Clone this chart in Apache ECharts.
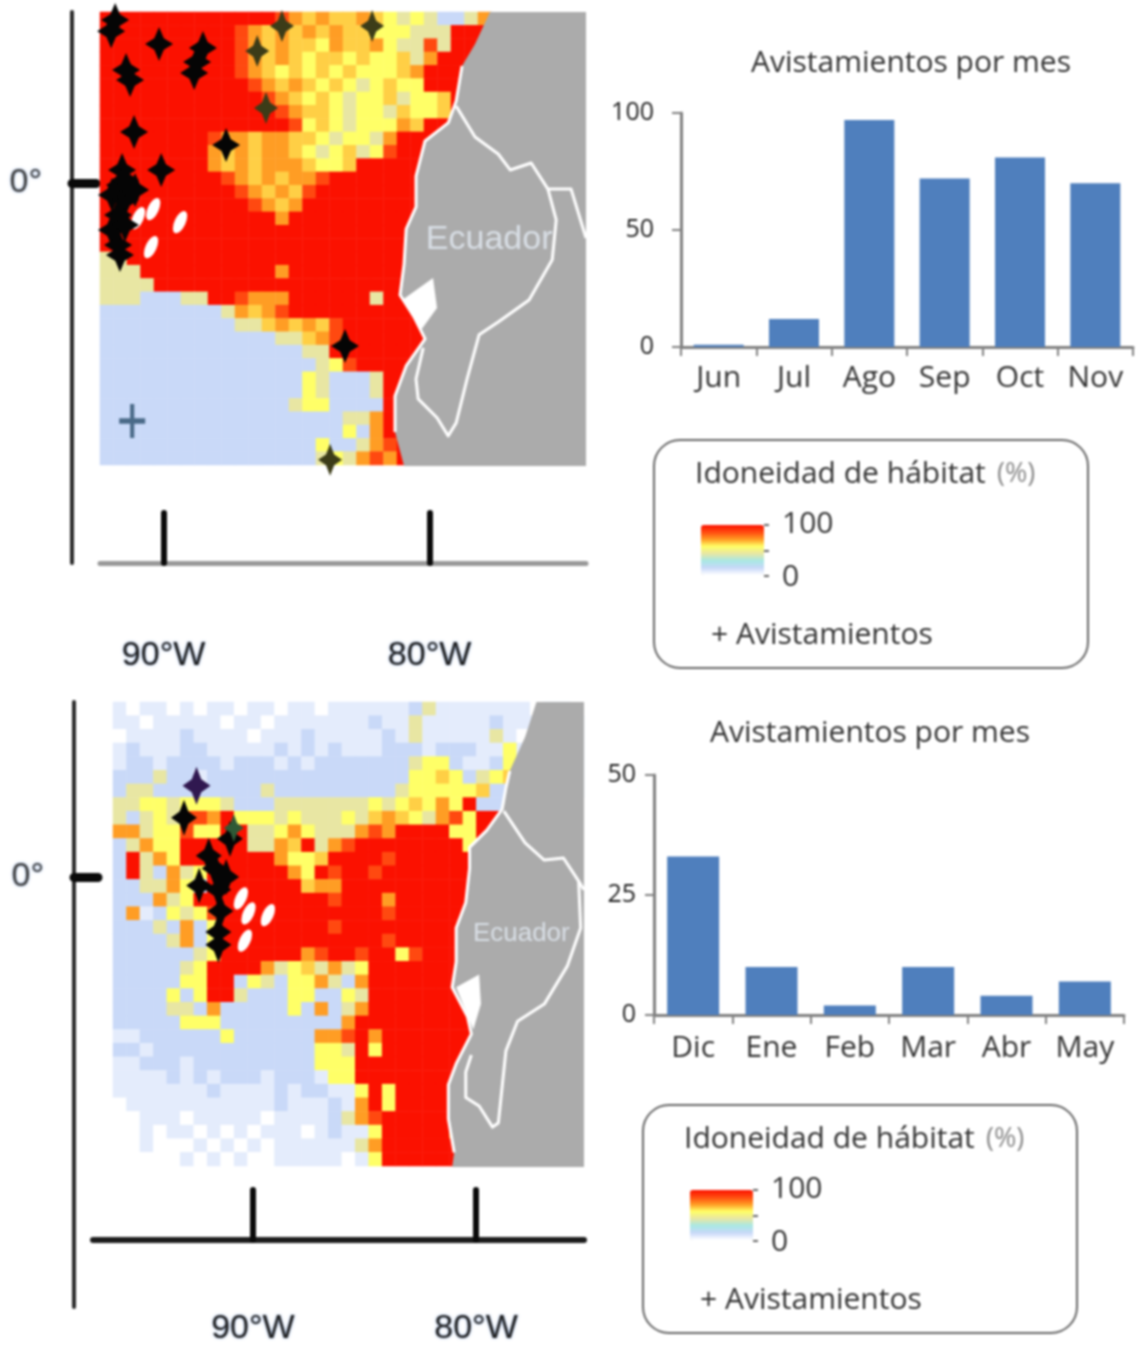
<!DOCTYPE html>
<html><head><meta charset="utf-8">
<style>html,body{margin:0;padding:0;background:#fff}#c{width:1148px;height:1355px;filter:blur(1px)}</style>
<script src="https://cdn.jsdelivr.net/npm/echarts@6/dist/echarts.min.js"></script>
</head><body><div id="c"></div>
<script>
// ---- bar chart data
const months1 = ['Jun','Jul','Ago','Sep','Oct','Nov'];
const sightings1 = [1,12,97,72,81,70];
const months2 = ['Dic','Ene','Feb','Mar','Abr','May'];
const sightings2 = [33,10,2,10,4,7];
const barTitle = 'Avistamientos por mes';
const legendTitle = 'Idoneidad de hábitat';
const legendUnit = '(%)';
const legendMark = '+ Avistamientos';
const lonTicks = [-90,-80];
const latTicks = [0];
// ---- suitability levels: digit in a map row -> percent
const levels = [0,7,14,43,57,64,71,86,100];
const rampColors = ['#ffffff','#c8d8f8','#a8e8e4','#e8e6a4','#ffff66','#ff9a22','#ff4a10','#fb1100'];
// ---- habitat suitability, map 1 (rows north to south)
const suit1 = [
'88888888888887656556543432236',
'88888888887656565655444333888',
'88888888887656554655643373888',
'8888888888765654554544536888',
'888888888876545454544456888',
'888888888887656545434544888',
'88888888888876545434453445888',
'8888888888888765543443544588',
'888888888888887454344465888',
'888888887665665543443688888',
'888888886565665434534788888',
'888888886565666544588888888',
'888888888765656678888888888',
'888888888876565788888888888',
'888888888887656888888888888',
'888888888888868888888888888',
'888888888888888888888888888',
'888888888888888888888888888',
'338888888888888888888888888',
'333888888888868888888888888',
'333388888888888888888888888',
'333222338876668888883888888',
'222222222365678888888888888',
'222222222233565657888888888',
'222222222222233567888888888',
'222222222222222338888888888',
'222222222222222234788888888',
'222222222222222432223888888',
'222222222222222432223888888',
'222222222222223442222888888',
'222222222222222222336888888',
'222222222222222222426888888',
'222222222222222242236788888',
'222222222222222234367688888'];
// ---- habitat suitability, map 2 (rows north to south)
const suit2 = [
'10110101101101101111112311111110110',
'11011111011011111112113111112111011',
'01111211110111211111213111113101011',
'12111221111121212111222122211411011',
'12212222122212122222223442112411001',
'22232212222222222222224454234511011',
'23322222222322222222234444452211001',
'33443444322233333334345464822110',
'32343776844434333435654367488110',
'66344744883346433367688884488',
'23644888883365836788888888448',
'28364888888864458888788888888',
'28326348888886487887888888888',
'22336428888888566888888888888',
'22263488888888887888688888888',
'26124347888888888888788888888',
'22232624888888887888888888888',
'22223624888888888888788888888',
'22222234888888678878847888888',
'222223488886345363488888888',
'222224488243244632688888888',
'222242488322244224388888888',
'222233262222242623688888888',
'222224442222222226888888888',
'112222224222222667868888888',
'221222222222222443848888888',
'112221222222222444888888888',
'111121212221222144888888888',
'111111121111212211484888888',
'011111111111211121684888888',
'001110111110111123678888888',
'001011010101110121148888868',
'00100010101011111136888888',
'00000101010011111014888888'];
// ---- sightings on the maps, lon/lat
const crosses1 = [[-90.17,5.23],[-88.74,4.55],[-88.52,5.08],[-88.85,4.14],[-91.97,5.71],[-91.82,6.13],[-91.41,4.25],[-91.26,3.87],[-91.11,1.92],[-90.09,0.49],[-87.65,1.43],[-83.18,-6.13],[-91.56,0.49],[-91.64,-0.08],[-91.94,-0.45],[-91.45,-0.64],[-91.71,-1.20],[-91.94,-1.77],[-91.45,-1.58],[-91.71,-2.33],[-91.45,0.11],[-91.07,-0.26],[-91.64,-2.71]];
const crossesPale1 = [[-86.15,2.82],[-86.48,4.96],[-85.55,5.90],[-82.16,5.90],[-83.74,-10.41]];
const crossesBlue1 = [[-91.18,-8.95]];
const crosses2 = [[-93.09,2.28],[-91.98,0.82],[-91.72,0.33],[-91.55,-0.49],[-91.46,-1.31],[-91.55,-2.12],[-92.41,-0.33],[-91.20,0],[-91.03,1.47],[-91.55,-2.61]];
const crossesPale2 = [[-90.86,1.88]];
const crossesBlue2 = [[-92.53,3.51]];
// ---- islands (white), lon/lat
const islands1 = [[-90.39,-0.98],[-90.96,-1.32],[-89.38,-1.47],[-90.47,-2.41]];
const islands2 = [[-90.54,-0.82],[-90.36,-2.45],[-89.33,-1.47],[-90.2,-1.4]];
// ---- land outlines, lon/lat
const coast1 = [[-77.73,6.43],[-78.29,5.23],[-78.78,4.40],[-79.0,3.08],[-79.30,2.26],[-80.17,1.58],[-80.51,0.26],[-80.51,-0.90],[-80.88,-1.73],[-80.96,-3.05],[-81.11,-4.21],[-80.58,-5.04],[-80.17,-5.86],[-80.88,-6.88],[-81.30,-8.01],[-81.30,-9.36],[-80.96,-10.64]];
const corners1 = [[-74.12,-10.64],[-74.12,6.43]];
const borderN1 = [[-79.0,2.89],[-78.29,1.73],[-77.42,1.09],[-76.97,0.49],[-76.18,0.75],[-75.55,-0.23],[-74.68,-0.23],[-74.12,-2.07]];
const borderS1 = [[-75.55,-0.23],[-75.24,-1.39],[-75.39,-2.89],[-76.26,-4.40],[-77.42,-5.23],[-78.14,-5.71],[-78.59,-7.37],[-79.0,-9.02],[-79.30,-9.51],[-79.72,-8.83],[-80.43,-8.12],[-80.51,-7.37],[-80.24,-6.20]];
const gulf1 = [[-79.87,-3.57],[-79.72,-4.70],[-80.32,-5.53],[-81.03,-4.40]];
const coast2 = [[-77.29,6.73],[-77.80,5.38],[-78.49,4.08],[-78.66,3.43],[-78.83,2.61],[-79.52,1.79],[-80.29,1.14],[-80.29,0.33],[-80.46,-0.98],[-80.89,-1.96],[-80.89,-3.26],[-81.07,-4.24],[-80.38,-5.38],[-80.21,-6.04],[-80.89,-7.18],[-81.24,-7.99],[-81.24,-9.30],[-80.98,-10.60],[-81.07,-11.16]];
const corners2 = [[-75.16,-11.16],[-75.16,6.73]];
const borderN2 = [[-78.75,2.53],[-77.80,1.31],[-76.94,0.65],[-76.08,0.73],[-75.40,-0.16],[-75.16,-0.49]];
const borderS2 = [[-75.40,-0.16],[-75.31,-1.96],[-75.91,-3.43],[-76.94,-4.89],[-78.14,-5.55],[-78.66,-6.69],[-79.0,-9.46],[-79.26,-9.62],[-79.86,-8.81],[-80.46,-8.48],[-80.46,-7.50],[-80.21,-6.85]];
const gulf2 = [[-79.86,-3.75],[-79.78,-4.89],[-80.12,-5.87],[-80.89,-4.24]];
const places1 = [[-77.76,-2.14,'Ecuador']];
const places2 = [[-77.97,-2.20,'Ecuador']];

const FONT = '"Open Sans", sans-serif';
const NARROW = '"Liberation Sans", sans-serif';
const cells = rows => { const out=[]; rows.forEach((row,r)=>{ [...row].forEach((d,c)=>out.push([c,r,levels[+d]])); }); return out; };
const idx = n => Array.from({length:n},(_,i)=>i);

function heat(rows,ix){ return {type:'heatmap',xAxisIndex:ix,yAxisIndex:ix,data:cells(rows),z:1,silent:true,emphasis:{disabled:true},animation:false,progressive:0}; }
function land(ix,coast,corners,bN,bS,gulf){
  return {type:'custom',xAxisIndex:ix,yAxisIndex:ix,data:[0],z:2,silent:true,clip:false,coordinateSystem:'cartesian2d',
    renderItem:(p,api)=>{
      const pts=a=>a.map(q=>api.coord(q));
      const white={fill:null,stroke:'#fff',lineWidth:3,lineJoin:'round'};
      return {type:'group',children:[
        {type:'polygon',shape:{points:pts(coast.concat(corners))},style:{fill:'#ababab'}},
        {type:'polyline',shape:{points:pts(coast.slice(2,-1))},style:white},
        {type:'polygon',shape:{points:pts(gulf)},style:{fill:'#fff'}},
        {type:'polyline',shape:{points:pts(bN)},style:white},
        {type:'polyline',shape:{points:pts(bS)},style:white}
      ]};
    }};
}
const STAR='path://M5 0 L6.7 3.3 L10 5 L6.7 6.7 L5 10 L3.3 6.7 L0 5 L3.3 3.3 Z';
const PLUS='path://M4.2 0H5.8V4.2H10V5.8H5.8V10H4.2V5.8H0V4.2H4.2Z';
function marks(ix,data,color,sym,size){ return {type:'scatter',xAxisIndex:ix,yAxisIndex:ix,data,symbol:sym,symbolSize:size,itemStyle:{color,opacity:1},z:4,silent:true}; }
function isles(ix,data){ return {type:'scatter',xAxisIndex:ix,yAxisIndex:ix,data,symbol:'circle',symbolSize:[11,24],symbolRotate:-25,itemStyle:{color:'#fff',opacity:1},z:3,silent:true}; }
function place(ix,data,size){ return {type:'scatter',xAxisIndex:ix,yAxisIndex:ix,data,symbolSize:0,z:3,silent:true,
  label:{show:true,position:'inside',formatter:p=>p.value[2],color:'#e4ebf4',fontFamily:NARROW,fontSize:size}}; }

function mapAxes(gi,xmin,xmax,ymin,ymax,xColor,xW,yOff,xOff,margin){
  return {
    x:{gridIndex:gi,type:'value',min:xmin,max:xmax,offset:xOff,
      axisLine:{show:true,onZero:false,lineStyle:{color:xColor,width:xW}},
      axisTick:{show:true,inside:true,length:50,customValues:lonTicks,lineStyle:{color:'#0a0a0a',width:6,cap:'round'}},
      axisLabel:{show:true,customValues:lonTicks,margin,formatter:v=>Math.abs(v)+'°W',color:'#222',fontFamily:NARROW,fontSize:34,textShadowColor:'rgba(60,110,190,.6)',textShadowBlur:3},
      splitLine:{show:false}},
    y:{gridIndex:gi,type:'value',min:ymin,max:ymax,offset:yOff,
      axisLine:{show:true,onZero:false,lineStyle:{color:'#2a2a2a',width:4}},
      axisTick:{show:true,inside:true,length:24,customValues:latTicks,lineStyle:{color:'#0a0a0a',width:9,cap:'round'}},
      axisLabel:{show:true,customValues:latTicks,margin:30,padding:[10,0,0,0],formatter:v=>v+'°',color:'#444',fontFamily:NARROW,fontSize:34,textShadowColor:'rgba(60,110,190,.6)',textShadowBlur:3},
      splitLine:{show:false}}
  };
}
const hidCat=(gi,n,inv)=>({gridIndex:gi,type:'category',data:idx(n),show:false,inverse:inv});
const a1=mapAxes(1,-92.39,-74.12,-14.29,6.43,'#999',5,28,0,76);
const a2=mapAxes(3,-97.17,-75.16,-16.54,6.73,'#1c1c1c',6,19,-67,72);
function barX(gi,data,margin){return {gridIndex:gi,type:'category',data,axisLine:{lineStyle:{color:'#808080',width:3}},axisTick:{show:true,length:9,lineStyle:{color:'#808080',width:2}},axisLabel:{interval:0,color:'#333',fontFamily:FONT,fontSize:30,margin},splitLine:{show:false}};}
function barY(gi,max,interval,margin){return {gridIndex:gi,type:'value',min:0,max,interval,axisLine:{show:true,lineStyle:{color:'#808080',width:3}},axisTick:{show:true,length:9,lineStyle:{color:'#808080',width:2}},axisLabel:{color:'#222',fontFamily:FONT,fontSize:25,margin},splitLine:{show:false}};}
function bars(ix,data,w){return {type:'bar',xAxisIndex:ix,yAxisIndex:ix,data,barWidth:w,itemStyle:{color:'#4f7fbd'},silent:true};}

function legendGraphics(x,y){
  const T=(tx,ty,text,size,extra)=>({type:'text',x:tx,y:ty,style:Object.assign({text,fontFamily:FONT,fontSize:size,fill:'#333',verticalAlign:'middle'},extra||{})});
  const tick=yy=>({type:'line',shape:{x1:x+110,y1:yy,x2:x+115,y2:yy},style:{stroke:'#666',lineWidth:2}});
  return [
    {type:'rect',shape:{x,y,width:434,height:228,r:26},style:{fill:'#fff',stroke:'#666',lineWidth:2},z:-1},
    T(x+41,y+34,legendTitle,30,{}),
    T(x+343,y+34,legendUnit,27,{fill:'#888',textAlign:'left'}),
    T(x+128,y+84,'100',30,{}),
    T(x+128,y+137,'0',30,{}),
    T(x+57,y+195,legendMark,30,{}),
    tick(y+85),tick(y+111),tick(y+136)
  ];
}
function vm(series,x,y){return {type:'continuous',seriesIndex:series,min:0,max:100,left:x+32,top:y+70,itemWidth:63,itemHeight:50,showLabel:false,text:null,calculable:false,hoverLink:false,inRange:{color:rampColors},dimension:2};}

const chart=echarts.init(document.getElementById('c'),null,{renderer:'canvas'});
chart.setOption({
  animation:false,backgroundColor:'#fff',
  title:[
    {text:barTitle,left:906,top:43,textAlign:'center',textStyle:{fontFamily:FONT,fontSize:30,fontWeight:'normal',color:'#333'}},
    {text:barTitle,left:865,top:713,textAlign:'center',textStyle:{fontFamily:FONT,fontSize:30,fontWeight:'normal',color:'#333'}}
  ],
  grid:[
    {left:100,top:12,width:486,height:453},
    {left:100,top:12,width:486,height:551},
    {left:113,top:702,width:471,height:464},
    {left:93,top:702,width:491,height:605},
    {left:681,top:113,width:452,height:234},
    {left:654,top:775,width:470,height:240}
  ],
  xAxis:[hidCat(0,36,false),a1.x,hidCat(2,35,false),a2.x,barX(4,months1,16),barX(5,months2,18)],
  yAxis:[hidCat(0,34,true),a1.y,hidCat(2,34,true),a2.y,barY(4,100,50,27),barY(5,50,25,18)],
  visualMap:[vm(0,654,440),vm(1,643,1105)],
  series:[
    heat(suit1,0),heat(suit2,2),
    land(1,coast1,corners1,borderN1,borderS1,gulf1),
    land(3,coast2,corners2,borderN2,borderS2,gulf2),
    isles(1,islands1),isles(3,islands2),
    place(1,places1,34),place(3,places2,26),
    marks(1,crosses1,'#050505',STAR,[28,34]),
    marks(1,crossesPale1,'#3c3c18',STAR,[24,32]),
    marks(1,crossesBlue1,'#4a6a88',PLUS,[26,34]),
    marks(3,crosses2,'#050505',STAR,[26,36]),
    marks(3,crossesPale2,'#2e5a36',STAR,[20,28]),
    marks(3,crossesBlue2,'#301850',STAR,[28,38]),
    bars(4,sightings1,50),bars(5,sightings2,52)
  ],
  graphic:{elements:legendGraphics(654,440).concat(legendGraphics(643,1105))}
});
</script></body></html>
